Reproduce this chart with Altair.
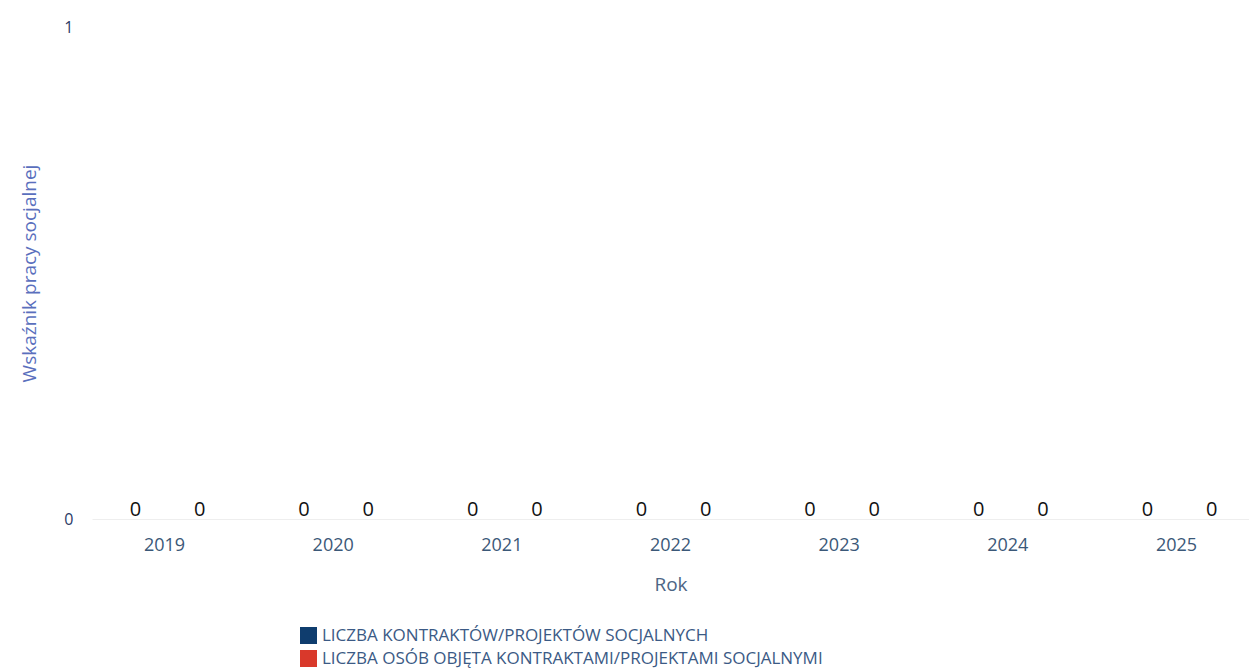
import altair as alt
import pandas as pd

years = ["2019", "2020", "2021", "2022", "2023", "2024", "2025"]
series = ["LICZBA KONTRAKTÓW/PROJEKTÓW SOCJALNYCH",
          "LICZBA OSÓB OBJĘTA KONTRAKTAMI/PROJEKTAMI SOCJALNYMI"]
contracts = [0, 0, 0, 0, 0, 0, 0]
persons = [0, 0, 0, 0, 0, 0, 0]
colors = ["#0f3d6e", "#d9392b"]

rows = []
for i, y in enumerate(years):
    rows.append({"Rok": y, "Seria": series[0], "Wartosc": contracts[i]})
    rows.append({"Rok": y, "Seria": series[1], "Wartosc": persons[i]})
df = pd.DataFrame(rows)

FONT = "Open Sans"

base = alt.Chart(df).encode(
    x=alt.X("Rok:N", sort=years,
            scale=alt.Scale(paddingInner=0.2, paddingOuter=0.03),
            axis=alt.Axis(title="Rok", labelAngle=0, labelFontSize=18, labelColor="#3b5878",
                          titleFontSize=19, titleColor="#4d6585", titleFontWeight="normal",
                          titlePadding=21, labelPadding=17, ticks=False, domainColor="#eeeeee",
                          labelFont=FONT, titleFont=FONT)),
    xOffset=alt.XOffset("Seria:N", sort=series,
                        scale=alt.Scale(paddingOuter=0.05)),
)

bars = base.mark_bar().encode(
    y=alt.Y("Wartosc:Q", scale=alt.Scale(domain=[0, 1]),
            axis=alt.Axis(title="Wskaźnik pracy socjalnej", values=[0, 1], format="d",
                          labelFontSize=16, labelColor="#2c3b66", titleFontSize=19,
                          titleColor="#5a6fbd", titleFontWeight="normal", grid=False,
                          domain=False, ticks=False, labelPadding=19, titlePadding=24,
                          labelFont=FONT, titleFont=FONT)),
    color=alt.Color("Seria:N", sort=series,
                    scale=alt.Scale(domain=series, range=colors),
                    legend=alt.Legend(title=None, orient="none", legendX=207, legendY=599,
                                      direction="vertical", symbolType="square",
                                      symbolSize=289, labelFontSize=17, labelColor="#3b5a85",
                                      labelFont=FONT, rowPadding=5, symbolOffset=0,
                                      labelOffset=4, labelLimit=0)),
)

labels = base.mark_text(dy=-9, dx=3, fontSize=20, color="#111111", font=FONT).encode(
    y=alt.Y("Wartosc:Q"),
    text=alt.Text("Wartosc:Q", format="d"),
)

chart = (bars + labels).properties(
    width=1157, height=492,
    padding={"left": 12, "top": 11, "right": 0, "bottom": 5},
).configure_view(stroke=None)

chart.save("out.html", embed_options={"renderer": "svg", "actions": False})
